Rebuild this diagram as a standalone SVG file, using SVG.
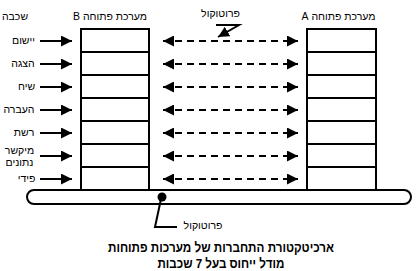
<svg xmlns="http://www.w3.org/2000/svg" width="417" height="271" viewBox="0 0 417 271">
<defs>
<marker id="ah" viewBox="0 0 10 10" refX="10" refY="5" markerWidth="11" markerHeight="11" markerUnits="userSpaceOnUse" orient="auto-start-reverse">
<path d="M0,0 L10,5 L0,10 Z" fill="#000"/>
</marker>
</defs>
<style>
text{font-family:"Liberation Sans","DejaVu Sans",sans-serif;font-size:10.5px;fill:#000;direction:rtl;unicode-bidi:embed}
.t{font-weight:bold;font-size:13.5px}
.ln{stroke:#000;stroke-width:2;fill:none}
.dash{stroke:#000;stroke-width:2;fill:none;stroke-dasharray:7 5}
.box{fill:#fff;stroke:#000;stroke-width:2}
</style>
<rect width="417" height="271" fill="#fff"/>
<g id="labels">
<text x="15" y="20" text-anchor="middle">שכבה</text>
<text x="23.5" y="44" text-anchor="middle">יישום</text>
<text x="23" y="67" text-anchor="middle">הצגה</text>
<text x="26.5" y="90" text-anchor="middle">שיח</text>
<text x="19" y="113" text-anchor="middle">העברה</text>
<text x="24" y="136" text-anchor="middle">רשת</text>
<text x="19.5" y="154" text-anchor="middle">מיקשר</text>
<text x="19.5" y="166" text-anchor="middle">נתונים</text>
<text x="26.5" y="182" text-anchor="middle">פידי</text>
</g>
<g id="systemB">
<rect class="box" x="81" y="29" width="68" height="161"/>
<path class="ln" d="M81 52H149M81 75H149M81 98H149M81 121H149M81 144H149M81 167H149"/>
<text x="110" y="20" text-anchor="middle">מערכת פתוחה B</text>
</g>
<g id="systemA">
<rect class="box" x="307" y="29" width="69" height="161"/>
<path class="ln" d="M307 52H376M307 75H376M307 98H376M307 121H376M307 144H376M307 167H376"/>
<text x="338.5" y="20" text-anchor="middle">מערכת פתוחה A</text>
</g>
<g id="bus">
<rect x="27" y="190" width="384" height="14" rx="7" ry="7" fill="#fff" stroke="#000" stroke-width="2"/>
<circle cx="162" cy="197" r="4.5" fill="#000"/>
</g>
<g id="connectors">
<g class="ln">
<path marker-end="url(#ah)" d="M40 41H72"/>
<path marker-end="url(#ah)" d="M40 64H72"/>
<path marker-end="url(#ah)" d="M40 87H72"/>
<path marker-end="url(#ah)" d="M40 110H72"/>
<path marker-end="url(#ah)" d="M40 133H72"/>
<path marker-end="url(#ah)" d="M40 156H72"/>
<path marker-end="url(#ah)" d="M40 179H72"/>
</g>
<g class="dash">
<path marker-start="url(#ah)" marker-end="url(#ah)" d="M163 41H298"/>
<path marker-start="url(#ah)" marker-end="url(#ah)" d="M163 64H298"/>
<path marker-start="url(#ah)" marker-end="url(#ah)" d="M163 87H298"/>
<path marker-start="url(#ah)" marker-end="url(#ah)" d="M163 110H298"/>
<path marker-start="url(#ah)" marker-end="url(#ah)" d="M163 133H298"/>
<path marker-start="url(#ah)" marker-end="url(#ah)" d="M163 156H298"/>
<path marker-start="url(#ah)" marker-end="url(#ah)" d="M163 179H298"/>
</g>
<path class="ln" d="M216 25H239L218 37" marker-end="url(#ah)"/>
<path class="ln" d="M161 199L155 227H177"/>
</g>
<g id="protocol-labels">
<text x="220.5" y="17" text-anchor="middle">פרוטוקול</text>
<text x="203" y="229" text-anchor="middle">פרוטוקול</text>
</g>
<g id="title">
<text class="t" x="221" y="252" text-anchor="middle" textLength="226" lengthAdjust="spacingAndGlyphs">ארכיטקטורת התחברות של מערכות פתוחות</text>
<text class="t" x="221" y="268" text-anchor="middle" textLength="127" lengthAdjust="spacingAndGlyphs">מודל ייחוס בעל 7 שכבות</text>
</g>
</svg>
